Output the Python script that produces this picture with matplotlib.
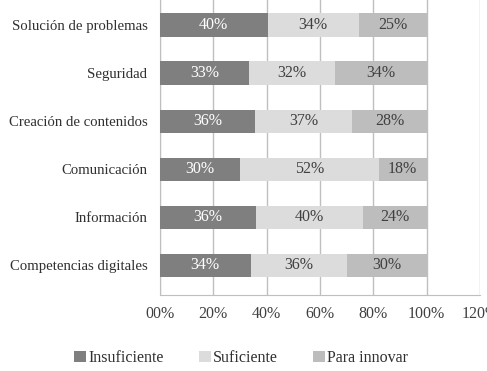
import matplotlib
matplotlib.use("Agg")
import matplotlib.pyplot as plt
import numpy as np

categories = ["Competencias digitales", "Información", "Comunicación",
              "Creación de contenidos", "Seguridad", "Solución de problemas"]
insuficiente = [34.0, 36.0, 30.0, 35.6, 33.4, 40.4]
suficiente = [36.0, 40.0, 52.0, 36.6, 32.4, 34.2]
para_innovar = [30.0, 24.0, 18.0, 27.8, 34.2, 25.4]
series_names = ["Insuficiente", "Suficiente", "Para innovar"]
xticks = [0, 20, 40, 60, 80, 100, 120]
xtick_labels = ["00%", "20%", "40%", "60%", "80%", "100%", "120%"]

plt.rcParams["font.family"] = ["Liberation Serif", "DejaVu Serif"]

colors = ["#7f7f7f", "#dcdcdc", "#bdbdbd"]
text_colors = ["white", "#404040", "#404040"]

fig = plt.figure(figsize=(4.87, 3.71), dpi=100)
ax = fig.add_axes([0.3285, 0.205, 0.657, 0.795])

y = np.arange(len(categories))
left = np.zeros(len(categories))
for vals, name, c, tc in zip([insuficiente, suficiente, para_innovar],
                             series_names, colors, text_colors):
    vals = np.array(vals)
    bars = ax.barh(y, vals, left=left, height=0.48, color=c, label=name, zorder=3)
    for b, v in zip(bars, vals):
        ax.text(b.get_x() + b.get_width() / 2, b.get_y() + b.get_height() / 2,
                f"{v:.0f}%", ha="center", va="center", color=tc,
                fontsize=11.5, zorder=4)
    left += vals

ax.set_xlim(0, 120)
ax.set_ylim(-0.62, 5.52)
ax.set_xticks(xticks)
ax.set_xticklabels(xtick_labels, fontsize=11.5, color="#404040")
ax.set_yticks(y)
ax.set_yticklabels(categories, fontsize=10.6, color="#303030")
ax.tick_params(length=0, pad=8)
ax.tick_params(axis="y", pad=9)
ax.xaxis.grid(True, color="#bfbfbf", linewidth=1, zorder=0)
for s in ["top", "right"]:
    ax.spines[s].set_visible(False)
for s in ["left", "bottom"]:
    ax.spines[s].set_color("#bfbfbf")

fig.legend(loc="center", bbox_to_anchor=(0.495, 0.035), ncol=3, frameon=False,
           fontsize=11.5, handlelength=0.75, handleheight=0.75, handletextpad=0.15,
           columnspacing=2.2, labelcolor="#303030")

fig.savefig("out.png", dpi=100)
